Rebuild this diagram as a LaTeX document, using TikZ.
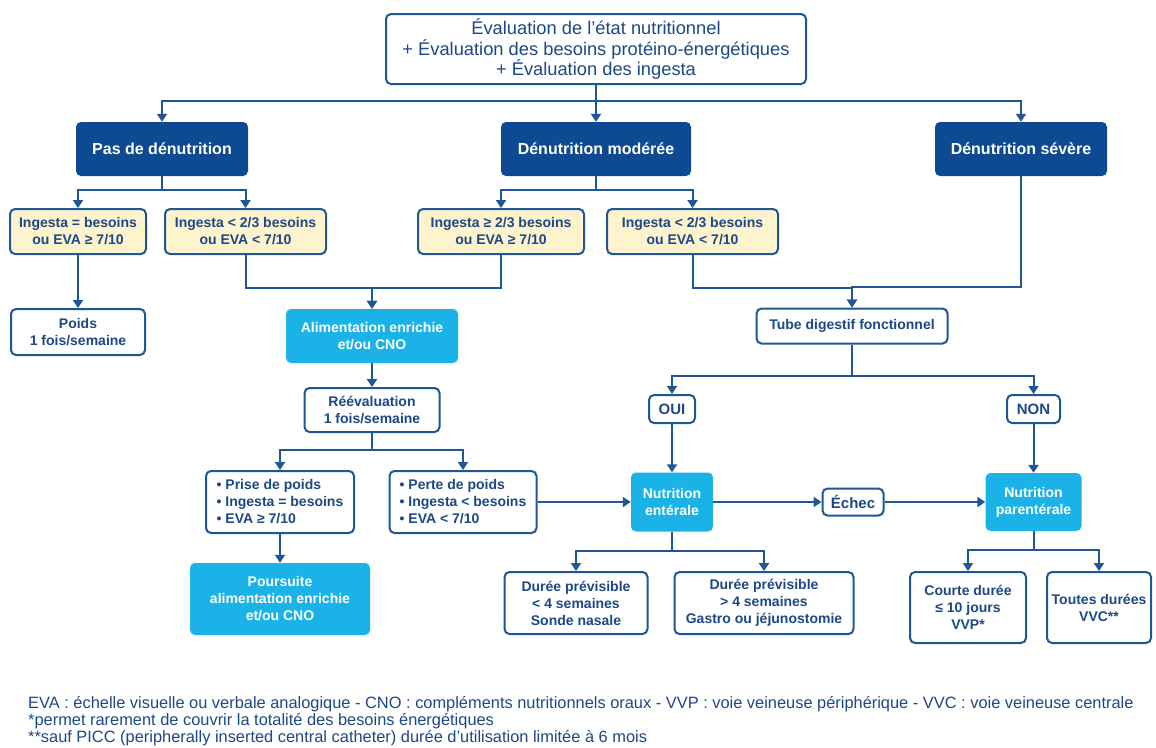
\documentclass[tikz,border=0pt]{standalone}
\usepackage{fontspec}
\setmainfont{Liberation Sans}
\usetikzlibrary{arrows.meta, calc, positioning}

\definecolor{darkblue}{RGB}{13,74,145}
\definecolor{lineblue}{RGB}{30,86,150}
\definecolor{textblue}{RGB}{28,72,135}
\definecolor{cyanbox}{RGB}{27,178,232}
\definecolor{paleyellow}{RGB}{253,243,205}

\begin{document}
\begin{tikzpicture}[x=1pt, y=-1pt, >={Triangle[width=10pt,length=8pt]},
    box/.style={draw=lineblue, line width=2pt, rounded corners=5pt, fill=white, text=textblue, align=center, inner sep=0pt, font=\bfseries\fontsize{14}{17}\selectfont},
    heading/.style={fill=darkblue, rounded corners=5pt, text=white, align=center, inner sep=0pt, minimum height=54pt, font=\bfseries\fontsize{16}{19}\selectfont},
    cond/.style={box, fill=paleyellow, minimum height=45pt},
    action/.style={fill=cyanbox, rounded corners=5pt, text=white, align=center, inner sep=0pt, font=\bfseries\fontsize{14}{17}\selectfont},
    link/.style={draw=lineblue, line width=2pt, ->},
    legendtext/.style={anchor=base west, inner sep=0pt, text=textblue, font=\fontsize{16.4}{18}\selectfont}]
    \useasboundingbox (0,0) rectangle (1156,747);

    \node[box, minimum width=420pt, minimum height=70pt, font=\fontsize{18.3}{20.5}\selectfont] (eval) at (596,49) {Évaluation de l’état nutritionnel\\+ Évaluation des besoins protéino-énergétiques\\+ Évaluation des ingesta};

    \node[heading, minimum width=172pt] (pas) at (162,149) {Pas de dénutrition};
    \node[heading, minimum width=190pt] (mod) at (596,149) {Dénutrition modérée};
    \node[heading, minimum width=172pt] (sev) at (1021,149) {Dénutrition sévère};

    \node[cond, minimum width=136pt] (ok1) at (78,231.5) {Ingesta = besoins\\ou EVA ≥ 7/10};
    \node[cond, minimum width=161pt] (low1) at (245.5,231.5) {Ingesta < 2/3 besoins\\ou EVA < 7/10};
    \node[cond, minimum width=166pt] (ok2) at (501,231.5) {Ingesta ≥ 2/3 besoins\\ou EVA ≥ 7/10};
    \node[cond, minimum width=171pt] (low2) at (692.5,231.5) {Ingesta < 2/3 besoins\\ou EVA < 7/10};

    \node[box, minimum width=134pt, minimum height=46pt] (poids) at (78,332) {Poids\\1 fois/semaine};
    \node[action, minimum width=172pt, minimum height=54pt] (alim) at (372,336) {Alimentation enrichie\\et/ou CNO};
    \node[box, minimum width=191pt, minimum height=35pt] (tube) at (852,326) {Tube digestif fonctionnel};

    \node[box, minimum width=135pt, minimum height=44pt] (reeval) at (372,410) {Réévaluation\\1 fois/semaine};
    \node[box, minimum width=46pt, minimum height=28pt, font=\bfseries\fontsize{15}{18}\selectfont] (oui) at (672,409) {OUI};
    \node[box, minimum width=53pt, minimum height=28pt, font=\bfseries\fontsize{15}{18}\selectfont] (non) at (1033.5,409) {NON};

    \node[box, minimum width=148pt, minimum height=62pt, align=left] (prise) at (280,502) {• Prise de poids\\• Ingesta = besoins\\• EVA ≥ 7/10};
    \node[box, minimum width=147pt, minimum height=62pt, align=left] (perte) at (463,502) {• Perte de poids\\• Ingesta < besoins\\• EVA < 7/10};
    \node[action, minimum width=82pt, minimum height=59pt] (enter) at (672,502) {Nutrition\\entérale};
    \node[box, minimum width=61pt, minimum height=27pt, font=\bfseries\fontsize{15}{18}\selectfont] (echec) at (853,502) {Échec};
    \node[action, minimum width=96pt, minimum height=58pt] (parent) at (1033.5,502) {Nutrition\\parentérale};

    \node[action, minimum width=180pt, minimum height=72pt] (suite) at (280,599) {Poursuite\\alimentation enrichie\\et/ou CNO};
    \node[box, minimum width=143pt, minimum height=62pt] (court) at (576,603) {Durée prévisible\\< 4 semaines\\Sonde nasale};
    \node[box, minimum width=179pt, minimum height=62pt] (long) at (764,603) {Durée prévisible\\> 4 semaines\\Gastro ou jéjunostomie};
    \node[box, minimum width=116pt, minimum height=71pt] (vvp) at (968,607.5) {Courte durée\\≤ 10 jours\\VVP*};
    \node[box, minimum width=104pt, minimum height=71pt] (vvc) at (1099,607.5) {Toutes durées\\VVC**};

    \draw[link] (eval.south) -- ++(0,16) -| (pas.north);
    \draw[link] (eval.south) -- ++(0,16) -| (sev.north);
    \draw[link] (eval.south) -- (mod.north);
    \draw[link] (pas.south) -- ++(0,14) -| (ok1.north);
    \draw[link] (pas.south) -- ++(0,14) -| (low1.north);
    \draw[link] (mod.south) -- ++(0,14) -| (ok2.north);
    \draw[link] (mod.south) -- ++(0,14) -| (low2.north);
    \draw[link] (ok1) -- (poids);
    \draw[link] (low1.south) -- ++(0,33) -| (alim.north);
    \draw[link] (ok2.south) -- ++(0,33) -| (alim.north);
    \draw[link] (low2.south) -- ++(0,33) -| (tube.north);
    \draw[link] (sev.south) -- ++(0,111) -| (tube.north);
    \draw[link] (alim) -- (reeval);
    \draw[link] (reeval.south) -- ++(0,17) -| (prise.north);
    \draw[link] (reeval.south) -- ++(0,17) -| (perte.north);
    \draw[link] (prise) -- (suite);
    \draw[link] (perte) -- (enter);
    \draw[link] (tube.south) -- ++(0,31) -| (oui.north);
    \draw[link] (tube.south) -- ++(0,31) -| (non.north);
    \draw[link] (oui) -- (enter);
    \draw[link] (non) -- (parent);
    \draw[link] (enter) -- (echec);
    \draw[link] (echec) -- (parent);
    \draw[link] (enter.south) -- ++(0,19) -| (court.north);
    \draw[link] (enter.south) -- ++(0,19) -| (long.north);
    \draw[link] (parent.south) -- ++(0,19) -| (vvp.north);
    \draw[link] (parent.south) -- ++(0,19) -| (vvc.north);

    \node[legendtext] (legend1) at (28,708) {EVA : échelle visuelle ou verbale analogique - CNO : compléments nutritionnels oraux - VVP : voie veineuse périphérique - VVC : voie veineuse centrale};
    \node[legendtext] (legend2) at (28,725) {*permet rarement de couvrir la totalité des besoins énergétiques};
    \node[legendtext] (legend3) at (28,742) {**sauf PICC (peripherally inserted central catheter) durée d’utilisation limitée à 6 mois};
\end{tikzpicture}
\end{document}
